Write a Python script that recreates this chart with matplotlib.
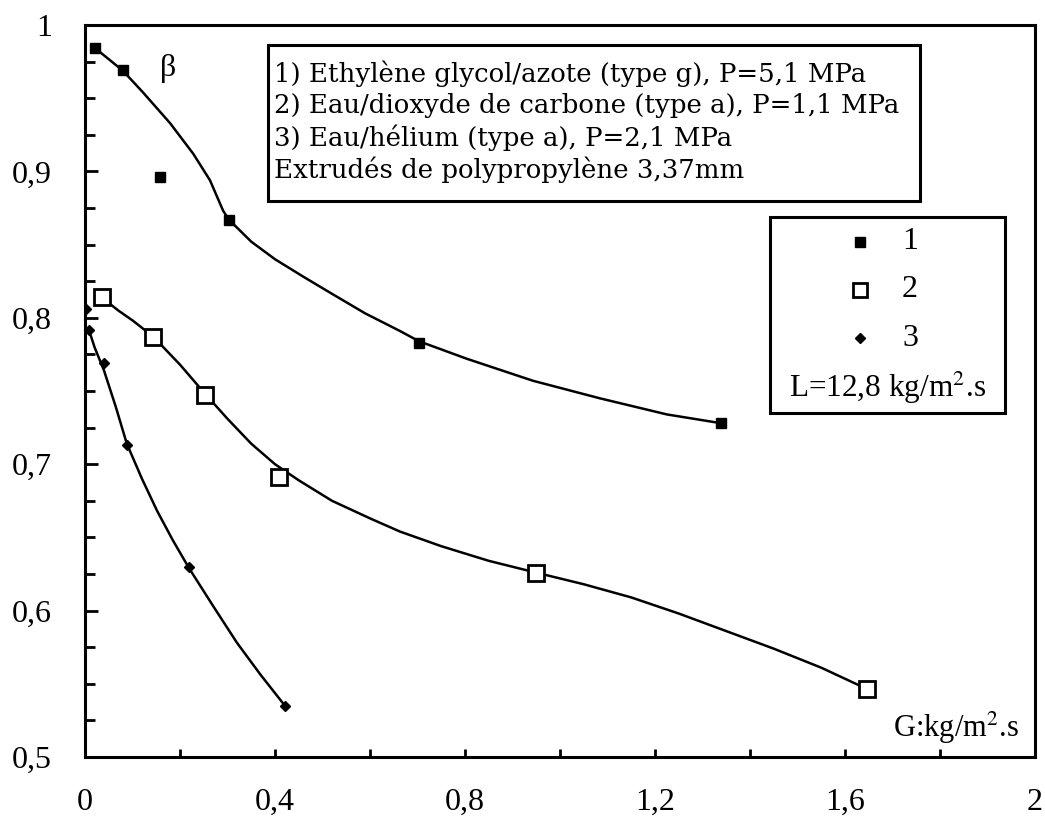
import matplotlib
matplotlib.use("Agg")
import matplotlib.pyplot as plt
from matplotlib.patches import Rectangle

plt.rcParams['font.family'] = ['Liberation Serif', 'DejaVu Serif']
plt.rcParams['mathtext.fontset'] = 'stix'

# points mesures (G en kg/m2.s, beta)
g1 = [0.022, 0.079, 0.157, 0.303, 0.703, 1.339]
b1 = [0.984, 0.969, 0.896, 0.867, 0.783, 0.728]
g2 = [0.035, 0.144, 0.253, 0.409, 0.949, 1.646]
b2 = [0.814, 0.787, 0.747, 0.691, 0.626, 0.5465]
g3 = [0.003, 0.009, 0.039, 0.088, 0.219, 0.421]
b3 = [0.806, 0.792, 0.769, 0.713, 0.630, 0.535]

# courbes lissees
cg1 = [0.022, 0.079, 0.122, 0.179, 0.228, 0.263, 0.291, 0.303, 0.35, 0.40, 0.46, 0.522, 0.59,
       0.663, 0.703, 0.804, 0.943, 1.084, 1.225, 1.339]
cb1 = [0.984, 0.969, 0.954, 0.933, 0.912, 0.894, 0.873, 0.867, 0.852, 0.840, 0.828, 0.816, 0.803,
       0.791, 0.784, 0.772, 0.757, 0.745, 0.734, 0.728]
cg2 = [0.035, 0.07, 0.101, 0.144, 0.20, 0.253, 0.30, 0.35, 0.40, 0.45, 0.52, 0.60, 0.663, 0.75,
       0.85, 0.949, 1.05, 1.15, 1.25, 1.35, 1.45, 1.55, 1.646]
cb2 = [0.814, 0.805, 0.798, 0.787, 0.768, 0.748, 0.731, 0.714, 0.700, 0.689, 0.675, 0.663, 0.654, 0.644,
       0.634, 0.626, 0.618, 0.609, 0.598, 0.586, 0.574, 0.561, 0.5465]
cg3 = [0.009, 0.02, 0.04, 0.065, 0.088, 0.12, 0.152, 0.185, 0.219, 0.27, 0.32, 0.37, 0.421]
cb3 = [0.791, 0.780, 0.764, 0.739, 0.714, 0.690, 0.668, 0.648, 0.629, 0.603, 0.578, 0.556, 0.535]

box_lines = ["1) Ethylène glycol/azote (type g), P=5,1 MPa",
             "2) Eau/dioxyde de carbone (type a), P=1,1 MPa",
             "3) Eau/hélium (type a), P=2,1 MPa",
             "Extrudés de polypropylène 3,37mm"]
leg_labels = ["1", "2", "3"]

xticks = [0, 0.4, 0.8, 1.2, 1.6, 2]
xlabels = ["0", "0,4", "0,8", "1,2", "1,6", "2"]
yticks = [0.5, 0.6, 0.7, 0.8, 0.9, 1.0]
ylabels = ["0,5", "0,6", "0,7", "0,8", "0,9", "1"]

fig = plt.figure(figsize=(10.45, 8.18), dpi=100)
ax = fig.add_axes([85/1045, 1-757/818, 950/1045, 732/818])

lw = 1.8
ax.plot(cg1, cb1, color='black', lw=lw)
ax.plot(cg2, cb2, color='black', lw=lw)
ax.plot(cg3, cb3, color='black', lw=lw)

ax.plot(g1, b1, 's', color='black', ms=7, zorder=3)
ax.plot(g2, b2, 's', mfc='white', mec='black', mew=2, ms=11, zorder=3)
ax.plot(g3, b3, 'D', color='black', ms=5, zorder=3)

ax.set_xlim(0, 2)
ax.set_ylim(0.5, 1.0)
ax.set_xticks(xticks)
ax.set_xticklabels(xlabels)
ax.set_xticks([0.2, 0.6, 1.0, 1.4, 1.8], minor=True)
ax.set_yticks(yticks)
ax.set_yticklabels(ylabels)
ax.set_yticks([0.525, 0.55, 0.575, 0.625, 0.65, 0.675, 0.725, 0.75, 0.775,
               0.825, 0.85, 0.875, 0.925, 0.95, 0.975], minor=True)
ax.tick_params(axis='x', which='both', direction='in', length=6, width=2, labelsize=23, pad=22)
ax.tick_params(axis='y', which='major', direction='in', length=9, width=2, labelsize=23, pad=24)
ax.tick_params(axis='y', which='minor', direction='in', length=7, width=2)
for s in ax.spines.values():
    s.set_linewidth(2.2)

# cadre du texte
ax.add_patch(Rectangle((0.385, 0.880), 1.757-0.385, 0.986-0.880, fill=False,
                       lw=2.2, edgecolor='black', zorder=4))
for i, t in enumerate(box_lines):
    ax.text(0.398, 0.967 - i*0.022, t, fontsize=18.7, family='DejaVu Serif',
            va='center', ha='left')

# legende
ax.add_patch(Rectangle((1.442, 0.735), 1.937-1.442, 0.869-0.735, fill=False,
                       lw=2.2, edgecolor='black', zorder=4))
ly = [0.852, 0.819, 0.786]
ax.plot([1.632], [ly[0]], 's', color='black', ms=7)
ax.plot([1.632], [ly[1]], 's', mfc='white', mec='black', mew=2, ms=10)
ax.plot([1.632], [ly[2]], 'D', color='black', ms=5)
for y, lab in zip(ly, leg_labels):
    ax.text(1.737, y, lab, fontsize=23, va='center', ha='center')
ax.text(1.69, 0.752, "L=12,8 kg/m$^{2}$.s", fontsize=22.5, va='center', ha='center')

ax.text(0.175, 0.970, "β", fontsize=23, va='center', ha='center')
ax.text(1.966, 0.52, "G:kg/m$^{2}$.s", fontsize=22, va='center', ha='right')

fig.savefig("out.png", dpi=100)
